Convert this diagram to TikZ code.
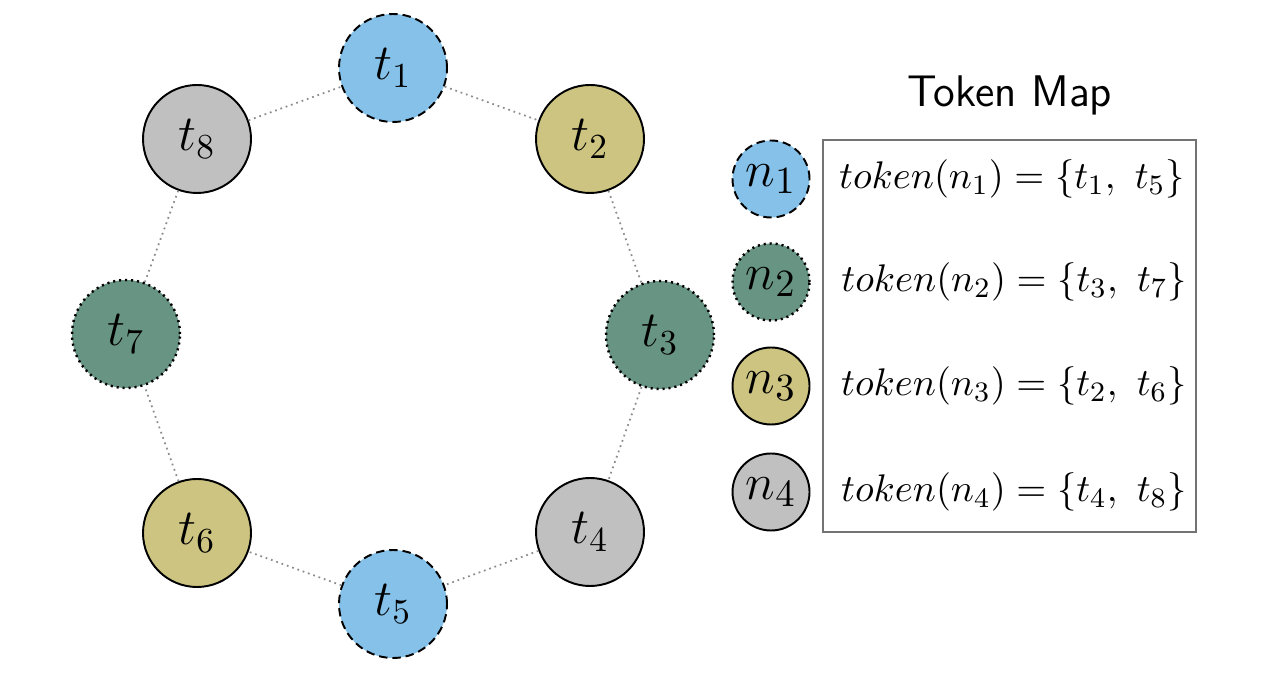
\documentclass[tikz,border=0pt]{standalone}
\usetikzlibrary{positioning}
\definecolor{tokblue}{RGB}{133,193,233}
\definecolor{tokgreen}{RGB}{104,148,132}
\definecolor{tokolive}{RGB}{204,196,128}
\definecolor{tokgray}{RGB}{192,192,192}
\tikzset{
	tok/.style={circle, draw=black, line width=0.55pt, minimum size=1.08cm, inner sep=0pt, font=\fontsize{14.5}{17}\selectfont},
	leg/.style={tok, minimum size=0.77cm, font=\fontsize{15.5}{18}\selectfont},
	nodeone/.style={fill=tokblue, dash pattern=on 2.4pt off 1.4pt},
	nodetwo/.style={fill=tokgreen, line width=0.7pt, dash pattern=on 0.6pt off 1.1pt},
	nodethree/.style={fill=tokolive},
	nodefour/.style={fill=tokgray},
	ring/.style={draw=black!45, line width=0.5pt, dash pattern=on 0.5pt off 1.1pt},
	maptext/.style={inner sep=0pt, anchor=west, font=\fontsize{11.2}{14}\selectfont},
	mapbox/.style={draw=black!55, line width=0.8pt, minimum width=3.73cm, minimum height=3.92cm, inner sep=0pt}
}

\begin{document}
\begin{tikzpicture}
		%%%%% START %%%%%
		\useasboundingbox (0, 0) rectangle (12.8, 6.79);
		
		% ring of tokens
		\node[tok, nodeone] (t1) at (3.93, 6.11) {$t_1$};
		\node[tok, nodethree] (t2) at (5.90, 5.40) {$t_2$};
		\node[tok, nodetwo] (t3) at (6.60, 3.44) {$t_3$};
		\node[tok, nodefour] (t4) at (5.90, 1.47) {$t_4$};
		\node[tok, nodeone] (t5) at (3.93, 0.75) {$t_5$};
		\node[tok, nodethree] (t6) at (1.97, 1.46) {$t_6$};
		\node[tok, nodetwo] (t7) at (1.26, 3.45) {$t_7$};
		\node[tok, nodefour] (t8) at (1.97, 5.40) {$t_8$};
		
		\foreach \a/\b in {t1/t2, t2/t3, t3/t4, t4/t5, t5/t6, t6/t7, t7/t8, t8/t1}
			\draw[ring] (\a) -- (\b);
		
		% token map
		\node[font=\fontsize{12.6}{15}\selectfont\sffamily] (title) at (10.10, 5.84) {Token Map};
		\node[mapbox] (map) at (10.095, 3.43) {};
		
		\node[leg, nodeone] (n1) at (7.71, 5.00) {$n_1$};
		\node[leg, nodetwo] (n2) at (7.71, 3.97) {$n_2$};
		\node[leg, nodethree] (n3) at (7.71, 2.93) {$n_3$};
		\node[leg, nodefour] (n4) at (7.71, 1.87) {$n_4$};
		
		\node[maptext, right=0.28cm of n1] (m1) {$token(n_1) = \{t_1,\ t_5\}$};
		\node[maptext, right=0.30cm of n2] (m2) {$token(n_2) = \{t_3,\ t_7\}$};
		\node[maptext, right=0.30cm of n3] (m3) {$token(n_3) = \{t_2,\ t_6\}$};
		\node[maptext, right=0.30cm of n4] (m4) {$token(n_4) = \{t_4,\ t_8\}$};
		
		%%%%% END %%%%%
	\end{tikzpicture}
\end{document}
